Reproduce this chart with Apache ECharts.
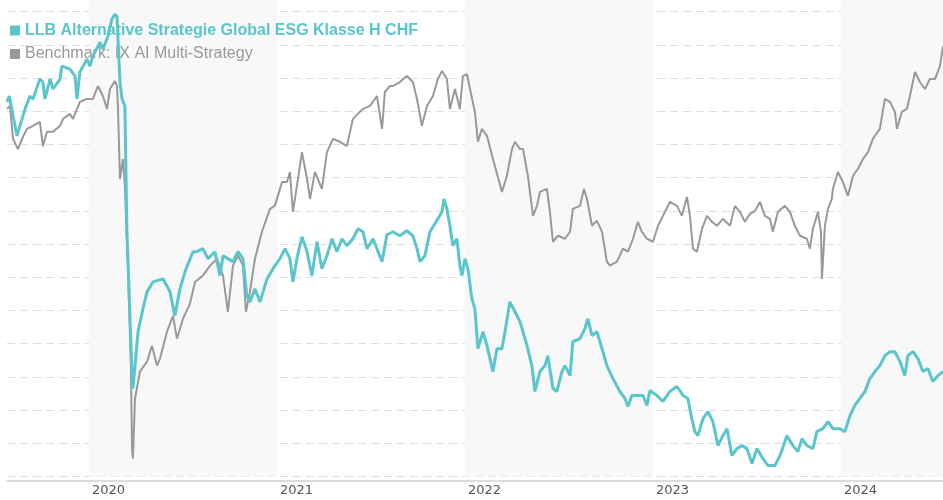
<!DOCTYPE html>
<html>
<head>
<meta charset="utf-8">
<script src="https://cdn.jsdelivr.net/npm/echarts@6/dist/echarts.min.js"></script>
<style>html,body{margin:0;padding:0;background:#fff;}#c{width:943px;height:500px;}</style>
</head>
<body>
<div id="c"></div>
<script>
// Time is given as decimal years (2020.0 = 1 Jan 2020)
const yearTicks = [2020, 2021, 2022, 2023, 2024];
const fundName = 'LLB Alternative Strategie Global ESG Klasse H CHF';
const benchName = 'Benchmark: IX AI Multi-Strategy';

const fundYears = [2019.564,2019.576,2019.617,2019.660,2019.686,2019.702,2019.739,2019.755,2019.766,2019.793,2019.809,2019.846,2019.856,2019.899,2019.926,2019.936,2019.952,2019.989,2020.005,2020.021,2020.059,2020.074,2020.101,2020.122,2020.138,2020.149,2020.165,2020.176,2020.191,2020.202,2020.218,2020.229,2020.234,2020.245,2020.261,2020.287,2020.309,2020.340,2020.394,2020.415,2020.431,2020.457,2020.484,2020.511,2020.553,2020.574,2020.606,2020.633,2020.670,2020.697,2020.713,2020.766,2020.793,2020.819,2020.840,2020.856,2020.883,2020.910,2020.947,2020.979,2021.016,2021.043,2021.069,2021.085,2021.106,2021.133,2021.160,2021.186,2021.213,2021.239,2021.266,2021.293,2021.319,2021.346,2021.372,2021.404,2021.431,2021.457,2021.479,2021.511,2021.559,2021.585,2021.617,2021.654,2021.691,2021.723,2021.745,2021.761,2021.787,2021.814,2021.856,2021.878,2021.888,2021.904,2021.920,2021.936,2021.957,2021.973,2021.984,2022.000,2022.016,2022.037,2022.053,2022.069,2022.096,2022.117,2022.149,2022.170,2022.197,2022.213,2022.239,2022.266,2022.293,2022.330,2022.356,2022.372,2022.399,2022.426,2022.441,2022.468,2022.489,2022.516,2022.532,2022.559,2022.574,2022.612,2022.638,2022.654,2022.676,2022.702,2022.734,2022.755,2022.787,2022.824,2022.851,2022.867,2022.888,2022.915,2022.947,2022.968,2022.984,2023.021,2023.053,2023.090,2023.128,2023.160,2023.186,2023.207,2023.223,2023.239,2023.266,2023.293,2023.319,2023.346,2023.372,2023.394,2023.420,2023.447,2023.473,2023.500,2023.527,2023.553,2023.585,2023.612,2023.649,2023.676,2023.713,2023.745,2023.771,2023.793,2023.819,2023.851,2023.872,2023.904,2023.931,2023.957,2023.995,2024.021,2024.048,2024.074,2024.101,2024.128,2024.154,2024.181,2024.207,2024.234,2024.261,2024.287,2024.314,2024.340,2024.356,2024.383,2024.410,2024.436,2024.463,2024.489,2024.516,2024.543];
const fundValues = [162.8,164.6,152.6,160.7,164.6,163.7,169.7,168.8,163.7,169.7,166.7,169.7,173.6,172.7,170.6,163.7,171.8,175.7,173.6,176.6,180.8,178.7,182.6,187.7,189.2,188.6,168.8,163.7,161.6,123.7,98.4,80.4,76.5,83.4,93.6,100.5,105.6,108.6,109.5,107.4,105.6,98.4,106.5,111.7,117.7,117.7,118.6,115.6,117.7,110.5,116.5,114.7,117.7,115.6,104.4,102.6,106.5,102.6,109.5,112.6,115.6,118.6,115.6,108.6,115.6,122.2,117.7,110.5,120.7,112.6,116.5,121.6,117.7,121.6,119.5,121.6,124.6,123.7,118.6,121.6,114.7,122.8,123.7,122.5,124.0,122.5,118.6,114.7,116.5,123.7,127.6,129.7,133.6,130.6,125.5,119.5,121.6,113.5,110.5,115.6,112.6,103.5,100.5,88.5,93.6,89.4,81.6,88.5,88.5,93.6,102.6,99.6,96.6,89.4,83.4,75.6,81.6,83.4,86.4,76.5,75.6,81.6,83.4,80.4,90.6,91.5,94.5,97.5,92.4,93.6,87.6,83.4,79.5,75.6,73.5,71.1,74.4,74.4,74.4,71.4,75.9,74.4,72.6,75.6,77.1,74.4,73.5,67.4,63.5,62.3,67.4,69.5,66.5,59.3,62.3,64.4,56.3,58.4,59.3,58.4,53.9,58.4,55.4,53.3,53.3,56.3,62.3,59.3,57.5,61.4,59.3,58.4,63.5,64.4,66.5,64.4,64.4,63.5,68.3,71.4,73.5,75.6,79.5,81.6,83.4,86.4,87.6,87.6,84.6,80.4,86.4,87.6,85.5,81.6,82.5,78.6,80.4,81.6];

const benchYears = [2019.564,2019.580,2019.596,2019.622,2019.644,2019.670,2019.702,2019.739,2019.755,2019.777,2019.809,2019.846,2019.862,2019.899,2019.915,2019.952,2019.989,2020.021,2020.048,2020.074,2020.096,2020.112,2020.138,2020.149,2020.154,2020.165,2020.181,2020.191,2020.207,2020.223,2020.229,2020.234,2020.245,2020.271,2020.309,2020.335,2020.362,2020.378,2020.415,2020.447,2020.468,2020.500,2020.537,2020.564,2020.606,2020.644,2020.681,2020.713,2020.739,2020.766,2020.793,2020.819,2020.835,2020.856,2020.883,2020.920,2020.963,2020.989,2021.027,2021.053,2021.069,2021.085,2021.106,2021.133,2021.160,2021.176,2021.202,2021.239,2021.266,2021.298,2021.335,2021.372,2021.404,2021.441,2021.457,2021.495,2021.532,2021.559,2021.574,2021.601,2021.617,2021.654,2021.691,2021.723,2021.745,2021.771,2021.798,2021.830,2021.856,2021.878,2021.904,2021.920,2021.947,2021.973,2021.989,2022.011,2022.027,2022.053,2022.069,2022.090,2022.117,2022.149,2022.197,2022.223,2022.250,2022.266,2022.293,2022.309,2022.335,2022.362,2022.383,2022.399,2022.436,2022.452,2022.468,2022.495,2022.532,2022.559,2022.574,2022.612,2022.633,2022.649,2022.676,2022.702,2022.729,2022.755,2022.771,2022.809,2022.840,2022.867,2022.894,2022.920,2022.941,2022.968,2023.000,2023.027,2023.064,2023.090,2023.128,2023.154,2023.181,2023.197,2023.213,2023.234,2023.261,2023.287,2023.314,2023.340,2023.372,2023.410,2023.436,2023.463,2023.489,2023.516,2023.543,2023.569,2023.596,2023.622,2023.638,2023.665,2023.702,2023.729,2023.755,2023.782,2023.819,2023.835,2023.851,2023.878,2023.894,2023.899,2023.915,2023.931,2023.952,2023.957,2023.984,2024.011,2024.037,2024.064,2024.090,2024.117,2024.144,2024.170,2024.207,2024.234,2024.261,2024.287,2024.298,2024.324,2024.351,2024.367,2024.394,2024.420,2024.447,2024.473,2024.500,2024.527,2024.543];
const benchValues = [160.7,161.6,151.7,148.6,151.7,154.7,155.6,156.8,149.5,153.8,153.8,155.6,157.7,159.2,157.7,162.8,163.7,163.7,167.6,164.6,160.7,166.7,169.1,167.6,161.6,139.6,145.6,137.5,113.5,83.4,58.4,55.4,73.5,81.6,84.6,89.4,83.4,85.5,93.6,98.4,91.5,97.5,102.0,108.6,110.5,113.5,115.6,110.5,99.6,113.5,116.5,113.5,99.6,105.6,115.6,123.7,130.6,131.5,138.7,138.7,141.7,129.7,137.5,147.7,139.6,133.6,141.7,136.6,147.7,151.7,150.8,149.5,157.7,159.8,160.7,161.6,164.6,154.7,165.8,167.6,167.6,168.8,170.6,168.8,163.7,155.6,161.6,164.6,169.7,172.1,169.7,160.7,166.7,160.7,170.6,171.2,166.7,159.8,150.8,154.7,152.6,145.6,135.7,140.5,148.6,150.8,148.6,148.6,140.5,128.5,131.5,135.7,136.6,129.7,120.7,122.5,121.6,123.7,130.6,131.5,136.6,133.6,125.5,127.0,123.7,114.7,113.5,114.7,118.6,117.7,121.6,126.7,123.7,121.6,120.7,125.5,129.7,132.7,131.5,128.5,134.2,128.5,118.6,117.7,124.6,128.5,126.7,125.5,127.6,125.5,131.5,129.7,126.7,129.1,130.0,132.7,128.5,127.6,123.7,129.7,131.5,129.7,125.5,122.5,121.6,118.6,124.6,129.7,123.7,109.5,125.5,130.6,133.6,136.6,141.7,138.7,134.5,140.5,142.6,145.6,147.7,151.7,154.7,163.7,162.8,159.8,154.7,159.8,160.7,164.6,171.8,168.8,166.7,169.7,169.7,173.6,179.6];

const TEAL = '#5ac6cc';
const GREY = '#999999';

const fundData = fundYears.map((t, i) => [t, fundValues[i]]);
const benchData = benchYears.map((t, i) => [t, benchValues[i]]);
const xMin = fundYears[0];
const xMax = fundYears[fundYears.length - 1];

const bands = [];
for (let i = 0; i < yearTicks.length; i += 2) {
  bands.push([{ xAxis: yearTicks[i] }, { xAxis: Math.min(yearTicks[i] + 1, xMax) }]);
}

const chart = echarts.init(document.getElementById('c'), null, { renderer: 'canvas' });
chart.setOption({
  animation: false,
  backgroundColor: '#ffffff',
  grid: { left: 7, right: 0, top: 0, bottom: 23.5, containLabel: false },
  legend: {
    orient: 'vertical',
    left: 10,
    top: 22,
    padding: 0,
    itemWidth: 10,
    itemHeight: 10,
    itemGap: 6.5,
    icon: 'rect',
    z: 4,
    data: [
      { name: fundName, textStyle: { color: TEAL, fontWeight: 'bold' } },
      { name: benchName, textStyle: { color: GREY, fontWeight: 'normal' } }
    ],
    textStyle: { fontFamily: 'Liberation Sans, Arial, sans-serif', fontSize: 16, lineHeight: 17 }
  },
  xAxis: {
    type: 'value',
    min: xMin,
    max: xMax,
    splitNumber: 5,
    offset: 4.5,
    axisLine: { show: true, lineStyle: { color: '#dddddd', width: 2 } },
    axisTick: { show: false },
    splitLine: { show: false },
    axisLabel: {
      showMinLabel: false,
      showMaxLabel: false,
      align: 'left',
      margin: 3,
      padding: [0, 0, 0, 3],
      color: '#555555',
      fontFamily: 'DejaVu Sans, Verdana, sans-serif',
      fontSize: 13,
      formatter: v => (Math.abs(v - Math.round(v)) < 1e-6 && yearTicks.includes(Math.round(v))) ? String(Math.round(v)) : ''
    }
  },
  yAxis: {
    type: 'value',
    min: 50,
    max: 193.5,
    interval: 10,
    axisLine: { show: false },
    axisTick: { show: false },
    axisLabel: { show: false },
    splitLine: { show: true, showMaxLine: false, lineStyle: { color: '#dddddd', type: [8, 5], width: 1 } }
  },
  series: [
    {
      name: 'bands',
      type: 'line',
      data: [],
      silent: true,
      z: 1,
      markArea: { silent: true, itemStyle: { color: '#f8f8f8' }, data: bands }
    },
    {
      name: benchName,
      type: 'line',
      data: benchData,
      showSymbol: false,
      symbol: 'none',
      z: 5,
      lineStyle: { color: GREY, width: 2 },
      itemStyle: { color: GREY }
    },
    {
      name: fundName,
      type: 'line',
      data: fundData,
      showSymbol: false,
      symbol: 'none',
      z: 6,
      lineStyle: { color: TEAL, width: 3 },
      itemStyle: { color: TEAL }
    }
  ]
});
</script>
</body>
</html>
